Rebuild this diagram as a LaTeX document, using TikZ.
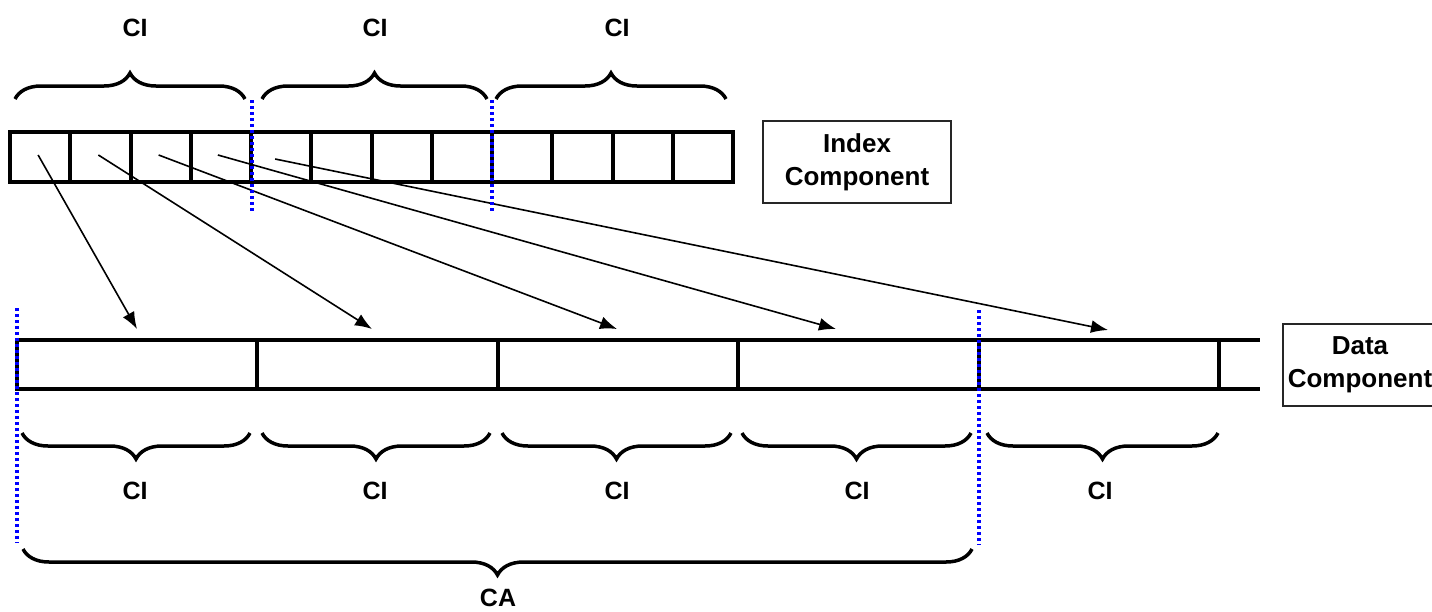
\documentclass[tikz,border=0pt]{standalone}
\usepackage{fontspec}
\setmainfont{Liberation Sans}
\usetikzlibrary{arrows.meta,decorations.pathreplacing,positioning,calc}
\tikzset{
    icell/.style={
    rectangle,draw=black,line width=4pt,minimum width=60.25pt,minimum height=50pt,inner sep=0pt,outer sep=0pt
    },
    dcell/.style={
    rectangle,draw=black,line width=4pt,minimum width=240.4pt,minimum height=49pt,inner sep=0pt,outer sep=0pt
    },
    bar/.style={
    draw=black,line width=4pt
    },
    citext/.style={
    font=\bfseries\fontsize{25}{30}\selectfont,inner sep=0pt
    },
    infobox/.style={
    rectangle,draw=black!85,line width=1.6pt,align=center,inner sep=0pt,
    font=\bfseries\fontsize{26}{33}\selectfont
    },
    pointer/.style={
    -{Latex[length=17pt,width=13pt]},line width=1.6pt
    },
    ubrace/.style={
    decorate,decoration={brace,amplitude=26pt},line width=3.5pt
    },
    dbrace/.style={
    decorate,decoration={brace,mirror,amplitude=26pt},line width=3.5pt
    },
    cut/.style={
    draw=blue,line width=3.5pt,dash pattern=on 3pt off 3pt
    },
}
\begin{document}
\begin{tikzpicture}[x=1pt,y=-1pt]
   \useasboundingbox (0,0) rectangle (1432,611);

   % index component
   \foreach \i in {1,...,12}
     \node[icell] (ix\i) at ({10+60.25*(\i-0.5)},157) {};
   \node[infobox,minimum width=188pt,minimum height=82pt] (ixbox) at (857,162) {Index\\Component};

   % data component
   \foreach \i in {1,...,5}
     \node[dcell] (dc\i) at ({17+240.4*(\i-0.5)},364.5) {};
   \coordinate (dtop) at (1260,340);
   \coordinate (dbot) at (1260,389);
   \draw[bar] (dc5.north east) -- (dtop);
   \draw[bar] (dc5.south east) -- (dbot);
   \node[infobox,minimum width=154pt,minimum height=82pt] (dcbox) at (1360,365) {Data\\Component};

   % pointers
   \coordinate (t1) at (137,329);
   \coordinate (t2) at (372,329);
   \coordinate (t3) at (617,329);
   \coordinate (t4) at (836,329);
   \coordinate (t5) at (1108,330);
   \draw[pointer] ([xshift=-2pt,yshift=2pt]ix1.center) -- (t1);
   \draw[pointer] ([xshift=-2pt,yshift=2pt]ix2.center) -- (t2);
   \draw[pointer] ([xshift=-2pt,yshift=2pt]ix3.center) -- (t3);
   \draw[pointer] ([xshift=-3pt,yshift=2pt]ix4.center) -- (t4);
   \draw[pointer] ([xshift=-6pt,yshift=-2pt]ix5.center) -- (t5);

   % braces over the index
   \draw[ubrace] (15,99) -- (245,99);
   \draw[ubrace] (262,99) -- (487,99);
   \draw[ubrace] (496,99) -- (726,99);
   \node[citext] (ci1) at (135,28) {CI};
   \node[citext] (ci2) at (375,28) {CI};
   \node[citext] (ci3) at (617,28) {CI};

   % braces under the data
   \draw[dbrace] (22,433) -- (250,433);
   \draw[dbrace] (262,433) -- (490,433);
   \draw[dbrace] (502,433) -- (731,433);
   \draw[dbrace] (742,433) -- (971,433);
   \draw[dbrace] (987,433) -- (1218,433);
   \node[citext] (cd1) at (135,491) {CI};
   \node[citext] (cd2) at (375,491) {CI};
   \node[citext] (cd3) at (617,491) {CI};
   \node[citext] (cd4) at (857,491) {CI};
   \node[citext] (cd5) at (1100,491) {CI};

   \draw[dbrace] (23,549) -- (972,549);
   \node[citext] (ca) at (498,598) {CA};

   % cut lines
   \draw[cut] (252,100) -- (252,213);
   \draw[cut] (492,100) -- (492,213);
   \draw[cut] (17,308) -- (17,543);
   \draw[cut] (979,310) -- (979,545);
\end{tikzpicture}
\end{document}
